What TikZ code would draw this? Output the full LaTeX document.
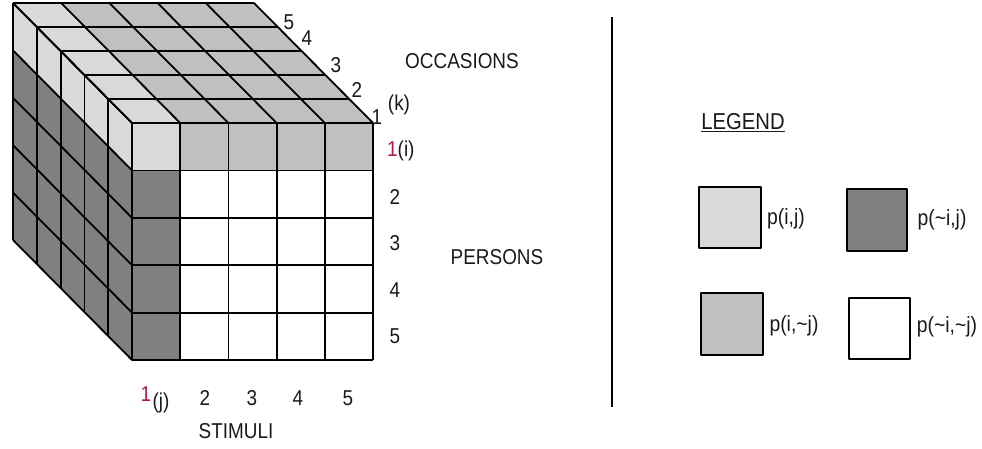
\documentclass[tikz,border=0pt]{standalone}
\usepackage{fontspec}
\setmainfont{Liberation Sans}[FakeStretch=0.88]
\definecolor{lightc}{RGB}{217,217,217}
\definecolor{medc}{RGB}{192,192,192}
\definecolor{darkc}{RGB}{128,128,128}
\definecolor{redc}{RGB}{175,25,60}
\definecolor{txt}{RGB}{25,25,25}
\tikzset{
  gridline/.style={line width=1.8pt, black},
  lab/.style={font=\fontsize{21.5}{24}\selectfont, text=txt, inner sep=0pt},
  biglab/.style={font=\fontsize{21.5}{25}\selectfont, text=txt, inner sep=0pt},
  leglab/.style={font=\fontsize{22}{25}\selectfont, text=txt, inner sep=0pt},
  legbox/.style={draw=black, line width=2pt},
}
\begin{document}
\begin{tikzpicture}[x=1pt,y=-1pt,line join=round]
\useasboundingbox (0,0) rectangle (982,448);
\def\xa{132}\def\ya{123}\def\cw{48.2}\def\ch{47.4}
\def\dx{-23.8}\def\dy{-24}\def\DX{-119}\def\DY{-120}
\def\W{241}\def\H{237}
% top face fills
\fill[medc] (\xa,\ya) -- (\xa+\W,\ya) -- (\xa+\W+\DX,\ya+\DY) -- (\xa+\DX,\ya+\DY) -- cycle;
\fill[lightc] (\xa,\ya) -- (\xa+\cw,\ya) -- (\xa+\cw+\DX,\ya+\DY) -- (\xa+\DX,\ya+\DY) -- cycle;
% left face fills
\fill[darkc] (\xa,\ya) -- (\xa,\ya+\H) -- (\xa+\DX,\ya+\H+\DY) -- (\xa+\DX,\ya+\DY) -- cycle;
\fill[lightc] (\xa,\ya) -- (\xa,\ya+\ch) -- (\xa+\DX,\ya+\ch+\DY) -- (\xa+\DX,\ya+\DY) -- cycle;
% front face fills
\fill[white] (\xa,\ya) rectangle (\xa+\W,\ya+\H);
\fill[medc] (\xa,\ya) rectangle (\xa+\W,\ya+\ch);
\fill[lightc] (\xa,\ya) rectangle (\xa+\cw,\ya+\ch);
\fill[darkc] (\xa,\ya+\ch) rectangle (\xa+\cw,\ya+\H);
% grid lines
\foreach \i in {0,...,5}{
  \draw[gridline] (\xa+\i*\cw,\ya) -- (\xa+\i*\cw+\DX,\ya+\DY);
  \draw[gridline] (\xa+\i*\dx,\ya+\i*\dy) -- (\xa+\i*\dx+\W,\ya+\i*\dy);
  \draw[gridline] (\xa,\ya+\i*\ch) -- (\xa+\DX,\ya+\i*\ch+\DY);
  \draw[gridline] (\xa+\i*\dx,\ya+\i*\dy) -- (\xa+\i*\dx,\ya+\i*\dy+\H);
  \draw[gridline] (\xa+\i*\cw,\ya) -- (\xa+\i*\cw,\ya+\H);
  \draw[gridline] (\xa,\ya+\i*\ch) -- (\xa+\W,\ya+\i*\ch);
}
% depth labels
\node[lab] (k5) at (289,22) {5};
\node[lab] (k4) at (307,38) {4};
\node[lab] (k3) at (336,65) {3};
\node[lab] (k2) at (357,90) {2};
\node[lab] (k1) at (377,117) {1};
\node[lab] (kk) at (399,105) {(k)};
\node[biglab] (occ) at (462,61) {OCCASIONS};
% person labels
\node[lab,anchor=west] (p1) at (387,151) {\textcolor{redc}{1}(i)};
\node[lab] (p2) at (395,197) {2};
\node[lab] (p3) at (395,243) {3};
\node[lab] (p4) at (395,290) {4};
\node[lab] (p5) at (395,336) {5};
\node[biglab] (pers) at (497,257) {PERSONS};
% stimuli labels
\node[lab,text=redc] (s1) at (146,394) {1};
\node[lab] (s1j) at (161,403) {(j)};
\node[lab] (s2) at (205,398) {2};
\node[lab] (s3) at (252,398) {3};
\node[lab] (s4) at (298,398) {4};
\node[lab] (s5) at (348,398) {5};
\node[biglab] (stim) at (236,431) {STIMULI};
% divider
\coordinate (dtop) at (612,17);
\coordinate (dbot) at (612,407);
\draw[line width=1.8pt,black] (dtop) -- (dbot);
% legend
\node[font=\fontsize{23}{26}\selectfont, text=txt, inner sep=0pt] (leg) at (743,123) {\underline{LEGEND}};
\draw[legbox,fill=lightc] (699,187) rectangle (761,248);
\node[leglab] (l1) at (786,219) {p(i,j)};
\draw[legbox,fill=darkc] (847,189) rectangle (907,251);
\node[leglab] (l2) at (942,220) {p(\char126i,j)};
\draw[legbox,fill=medc] (701,293) rectangle (763,355);
\node[leglab] (l3) at (794,326) {p(i,\char126j)};
\draw[legbox,fill=white] (849,298) rectangle (910,359);
\node[leglab] (l4) at (947,327) {p(\char126i,\char126j)};
\end{tikzpicture}
\end{document}
